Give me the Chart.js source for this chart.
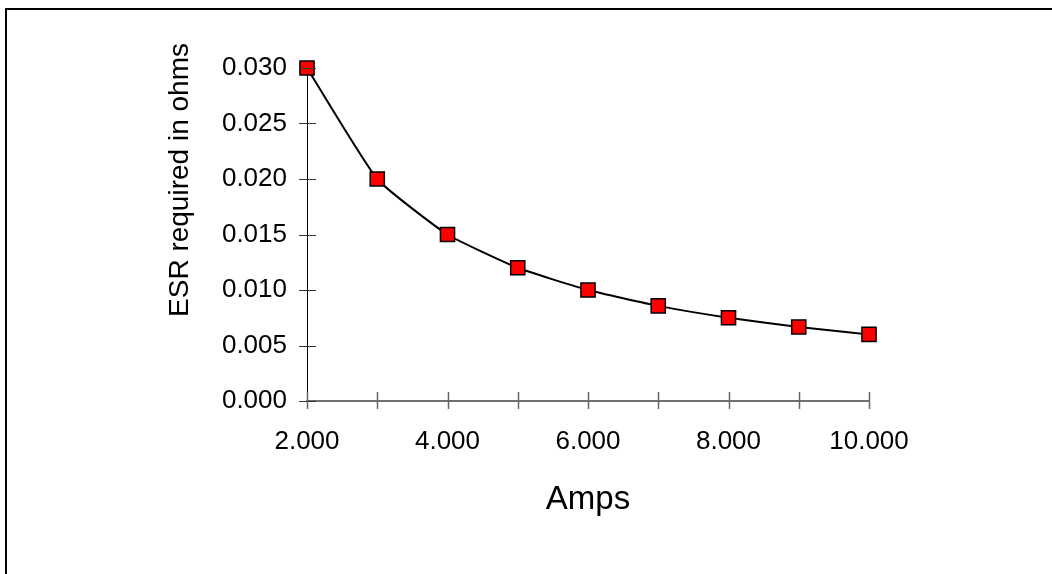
<!DOCTYPE html>
<html>
<head>
<meta charset="utf-8">
<script src="https://cdn.jsdelivr.net/npm/chart.js@4/dist/chart.umd.min.js"></script>
<style>
  html, body { margin: 0; padding: 0; background: #fff; overflow: hidden; }
  #frame { position: absolute; left: 5px; top: 8px; width: 1200px; height: 700px; border: 2px solid #000; }
  #wrap { position: absolute; left: 0; top: 0; width: 1052px; height: 574px; }
</style>
</head>
<body>
<div id="frame"></div>
<div id="wrap"><canvas id="esrChart" width="1052" height="574"></canvas></div>
<script>
  // Amps vs required ESR
  const amps = [2, 3, 4, 5, 6, 7, 8, 9, 10];
  const esrOhms = [0.030, 0.020, 0.015, 0.012, 0.010, 0.00857, 0.0075, 0.00667, 0.006];
  const xTitle = 'Amps';
  const yTitle = 'ESR required in ohms';

  const FONT = '"Liberation Sans", Arial, sans-serif';

  // tick marks that cross the axis, like the old spreadsheet charts
  const crossTicks = {
    id: 'crossTicks',
    afterDraw: function(chart) {
      const ctx = chart.ctx;
      const xs = chart.scales.x;
      const ys = chart.scales.y;
      const area = chart.chartArea;
      ctx.save();
      ctx.strokeStyle = '#333';
      ctx.lineWidth = 1;
      ys.ticks.forEach(function(t) {
        const py = Math.round(ys.getPixelForValue(t.value)) + 0.5;
        ctx.beginPath();
        ctx.moveTo(area.left - 8, py);
        ctx.lineTo(area.left + 9, py);
        ctx.stroke();
      });
      ctx.strokeStyle = '#666';
      ctx.lineWidth = 1.5;
      xs.ticks.forEach(function(t) {
        const px = Math.round(xs.getPixelForValue(t.value)) + 0.5;
        ctx.beginPath();
        ctx.moveTo(px, area.bottom - 9);
        ctx.lineTo(px, area.bottom + 8);
        ctx.stroke();
      });
      // y axis title, placed a bit above centre as in the original
      ctx.fillStyle = '#000';
      ctx.font = '28px ' + FONT;
      ctx.textAlign = 'center';
      ctx.textBaseline = 'middle';
      ctx.translate(180, 180);
      ctx.rotate(-Math.PI / 2);
      ctx.fillText(yTitle, 0, 0);
      ctx.restore();
    }
  };

  const ctx = document.getElementById('esrChart').getContext('2d');
  new Chart(ctx, {
    type: 'line',
    data: {
      datasets: [{
        label: yTitle,
        data: amps.map((a, i) => ({ x: a, y: esrOhms[i] })),
        borderColor: '#000',
        borderWidth: 2,
        tension: 0.15,
        clip: false,
        pointStyle: 'rect',
        pointRadius: 10,
        pointBackgroundColor: '#ff0000',
        pointBorderColor: '#000',
        pointBorderWidth: 1.5,
        fill: false
      }]
    },
    options: {
      responsive: false,
      animation: false,
      layout: { padding: { left: 0, top: 68, right: 183, bottom: 0 } },
      plugins: {
        legend: { display: false },
        tooltip: { enabled: false }
      },
      scales: {
        x: {
          type: 'linear',
          min: 2,
          max: 10,
          afterFit: function(s) { s.height = 173; },
          grid: { display: false, drawTicks: false },
          border: { display: true, color: '#707070', width: 2 },
          ticks: {
            stepSize: 1,
            padding: 25,
            color: '#000',
            font: { family: FONT, size: 26 },
            maxRotation: 0,
            autoSkip: false,
            callback: function(v) { return v % 2 === 0 ? v.toFixed(3) : ''; }
          },
          title: {
            display: true,
            text: xTitle,
            color: '#000',
            font: { family: FONT, size: 33 },
            padding: { top: 0, bottom: 54 }
          }
        },
        y: {
          min: 0,
          max: 0.030,
          afterFit: function(s) { s.width = 307; },
          grid: { display: false, drawTicks: false },
          border: { display: true, color: '#000', width: 1 },
          ticks: {
            stepSize: 0.005,
            padding: 20,
            color: '#000',
            font: { family: FONT, size: 26 },
            callback: function(v) { return v.toFixed(3); }
          }
        }
      }
    },
    plugins: [crossTicks]
  });
</script>
</body>
</html>
